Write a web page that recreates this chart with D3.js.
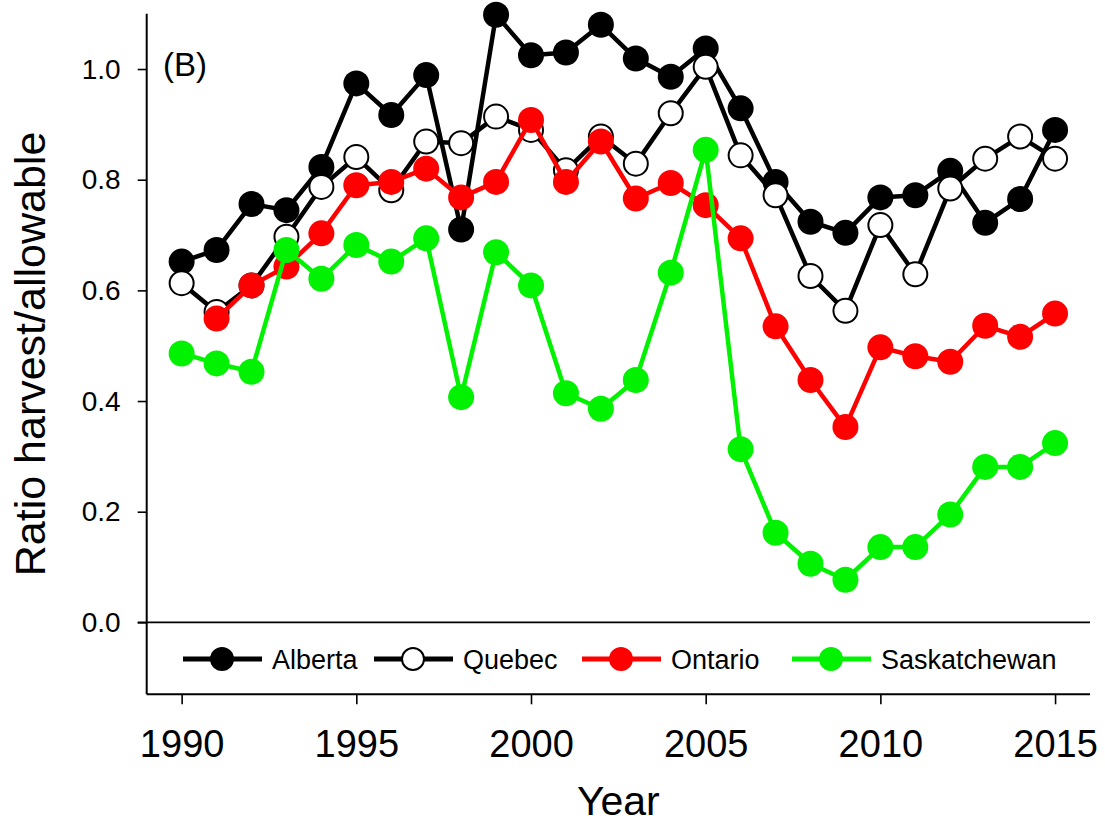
<!DOCTYPE html>
<html>
<head>
<meta charset="utf-8">
<script src="https://cdn.jsdelivr.net/npm/d3@7"></script>
<style>
  html, body { margin: 0; padding: 0; background: #ffffff; }
  svg { display: block; font-family: "Liberation Sans", Arial, sans-serif; }
</style>
</head>
<body>
<svg id="chart" width="1105" height="823"></svg>
<script>
// ---------- data ----------
const years = [1990,1991,1992,1993,1994,1995,1996,1997,1998,1999,2000,2001,2002,
               2003,2004,2005,2006,2007,2008,2009,2010,2011,2012,2013,2014,2015];
const alberta = [0.652,0.673,0.756,0.745,0.823,0.974,0.917,0.989,0.710,1.098,1.025,1.030,1.080,
                 1.019,0.986,1.037,0.929,0.796,0.724,0.704,0.768,0.772,0.816,0.722,0.765,0.890];
const quebec = [0.613,0.561,0.609,0.697,0.787,0.841,0.781,0.869,0.866,0.914,0.890,0.817,0.878,
                0.829,0.920,1.004,0.844,0.772,0.626,0.563,0.718,0.629,0.784,0.838,0.878,0.838];
const ontario = [null,0.549,0.609,0.643,0.703,0.790,0.796,0.820,0.768,0.796,0.908,0.796,0.869,
                 0.766,0.794,0.754,0.694,0.535,0.438,0.353,0.497,0.481,0.471,0.536,0.516,0.558];
const saskatchewan = [0.486,0.468,0.453,0.673,0.621,0.682,0.652,0.694,0.407,0.669,0.609,0.414,0.386,
                      0.438,0.632,0.854,0.313,0.162,0.106,0.077,0.136,0.136,0.195,0.281,0.281,0.324];
const seriesNames = ["Alberta", "Quebec", "Ontario", "Saskatchewan"];
const xTicks = [1990, 1995, 2000, 2005, 2010, 2015];
const yTicks = [0.0, 0.2, 0.4, 0.6, 0.8, 1.0];
const panelLabel = "(B)";
const xTitle = "Year";
const yTitle = "Ratio harvest/allowable";

// ---------- layout ----------
const svg = d3.select("#chart");
const pLeft = 146.7, pRight = 1090, pTop = 13.7, pBottom = 694.3;
const x = d3.scaleLinear().domain([1989, 2016]).range([pLeft, pRight]);
const y = d3.scaleLinear().domain([-0.13, 1.1]).range([pBottom, pTop]);

const styles = {
  Alberta:      { line: "#000000", fill: "#000000", stroke: "none",    r: 13, sw: 0 },
  Quebec:       { line: "#000000", fill: "#ffffff", stroke: "#000000", r: 12, sw: 2 },
  Ontario:      { line: "#ff0000", fill: "#ff0000", stroke: "none",    r: 13, sw: 0 },
  Saskatchewan: { line: "#00f200", fill: "#00f200", stroke: "none",    r: 13, sw: 0 }
};
const seriesData = [alberta, quebec, ontario, saskatchewan];

// ---------- axes ----------
const yAxis = d3.axisLeft(y).tickValues(yTicks).tickSize(9).tickSizeOuter(0).tickPadding(17)
  .tickFormat(d3.format(".1f"));
const gy = svg.append("g").attr("transform", `translate(${pLeft},0)`).call(yAxis);
gy.select(".domain").attr("stroke", "#000").attr("stroke-width", 2)
  .attr("d", `M0,${pTop}V${pBottom}`);
gy.selectAll(".tick line").attr("stroke", "#000").attr("stroke-width", 1.6);
gy.selectAll(".tick text").attr("font-size", 28).attr("fill", "#000")
  .attr("font-family", "'Liberation Sans', Arial, sans-serif");

const xAxis = d3.axisBottom(x).tickValues(xTicks).tickSize(10).tickSizeOuter(0).tickPadding(0)
  .tickFormat(d3.format("d"));
const gx = svg.append("g").attr("transform", `translate(0,${pBottom})`).call(xAxis);
gx.select(".domain").attr("stroke", "#000").attr("stroke-width", 2)
  .attr("d", `M${pLeft},0H${pRight}`);
gx.selectAll(".tick line").attr("stroke", "#000").attr("stroke-width", 1.6);
gx.selectAll(".tick text").attr("font-size", 38).attr("fill", "#000")
  .attr("font-family", "'Liberation Sans', Arial, sans-serif")
  .attr("dy", null).attr("y", 63);

// zero reference line
svg.append("line")
  .attr("x1", pLeft - 9).attr("x2", pRight)
  .attr("y1", y(0)).attr("y2", y(0))
  .attr("stroke", "#000").attr("stroke-width", 1.6);

// ---------- titles ----------
svg.append("text").attr("x", (pLeft + pRight) / 2).attr("y", 815)
  .attr("text-anchor", "middle").attr("font-size", 41).text(xTitle);
svg.append("text")
  .attr("transform", `translate(45,${(pTop + pBottom) / 2}) rotate(-90)`)
  .attr("text-anchor", "middle").attr("font-size", 43).text(yTitle);
svg.append("text").attr("x", 163).attr("y", 76).attr("font-size", 33).text(panelLabel);

// ---------- series ----------
seriesNames.forEach((name, i) => {
  const st = styles[name];
  const pts = years.map((yr, j) => ({ yr, v: seriesData[i][j] })).filter(d => d.v != null);
  const line = d3.line().x(d => x(d.yr)).y(d => y(d.v));
  const g = svg.append("g");
  g.append("path").datum(pts).attr("d", line)
    .attr("fill", "none").attr("stroke", st.line).attr("stroke-width", 4.5)
    .attr("stroke-linejoin", "round");
  g.selectAll("circle").data(pts).join("circle")
    .attr("cx", d => x(d.yr)).attr("cy", d => y(d.v)).attr("r", st.r)
    .attr("fill", st.fill).attr("stroke", st.stroke).attr("stroke-width", st.sw);
});

// ---------- legend ----------
const legendStarts = [183, 374, 582, 792];
const legendY = 659;
seriesNames.forEach((name, i) => {
  const st = styles[name];
  const g = svg.append("g").attr("transform", `translate(${legendStarts[i]},${legendY})`);
  g.append("line").attr("x1", 0).attr("x2", 79).attr("y1", 0).attr("y2", 0)
    .attr("stroke", st.line).attr("stroke-width", 5);
  g.append("circle").attr("cx", 39).attr("cy", 0).attr("r", name === "Quebec" ? 11 : 12)
    .attr("fill", st.fill).attr("stroke", st.stroke).attr("stroke-width", st.sw);
  g.append("text").attr("x", 89).attr("y", 9.5).attr("font-size", 27).text(name);
});
</script>
</body>
</html>
